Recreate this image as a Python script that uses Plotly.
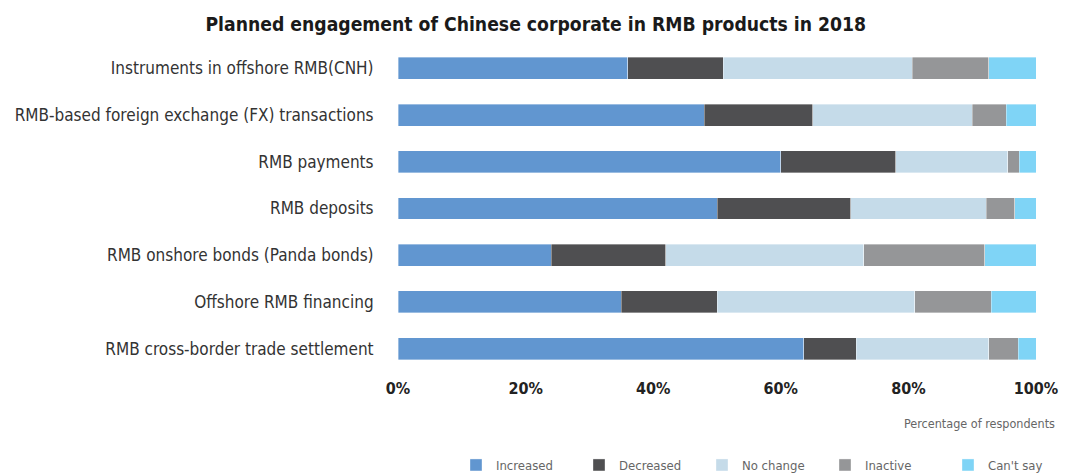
import plotly.graph_objects as go

categories = [
    "Instruments in offshore RMB(CNH)",
    "RMB-based foreign exchange (FX) transactions",
    "RMB payments",
    "RMB deposits",
    "RMB onshore bonds (Panda bonds)",
    "Offshore RMB financing",
    "RMB cross-border trade settlement",
]
increased = [36, 48, 60, 50, 24, 35, 63.6]
decreased = [15, 17, 18, 21, 18, 15, 8.2]
no_change = [29.6, 25, 17.6, 21.2, 31, 31, 20.8]
inactive = [12, 5.3, 1.8, 4.5, 19, 12, 4.6]
cant_say = [7.4, 4.7, 2.6, 3.3, 8, 7, 2.8]

series_names = ["Increased", "Decreased", "No change", "Inactive", "Can't say"]
series_values = [increased, decreased, no_change, inactive, cant_say]
colors = ["#6196D0", "#4F4F51", "#C5DBE9", "#959698", "#7FD4F6"]
tick_vals = [0, 20, 40, 60, 80, 100]
tick_text = ["0%", "20%", "40%", "60%", "80%", "100%"]

NARROW = "DejaVu Sans Condensed, Liberation Sans Narrow, sans-serif"

fig = go.Figure()
for name, vals, col in zip(series_names, series_values, colors):
    fig.add_trace(go.Bar(
        y=categories, x=vals, name=name, orientation="h",
        marker=dict(color=col, line=dict(color="rgba(255,255,255,0.6)", width=0.6)),
        width=0.47,
    ))

# page has an 8px body margin, so the figure is sized/offset to compensate
fig.update_layout(
    barmode="stack",
    width=1064, height=467,
    margin=dict(l=390, r=36, t=37, b=103),
    paper_bgcolor="white", plot_bgcolor="white",
    title=dict(
        text="<b>Planned engagement of Chinese corporate in RMB products in 2018</b>",
        x=0.496, xanchor="center", xref="container", y=0.966, yanchor="middle",
        yref="container",
        font=dict(family=NARROW, size=19.2, color="#1a1a1a"),
    ),
    xaxis=dict(
        range=[0, 100], tickvals=tick_vals, ticktext=tick_text,
        showgrid=False, zeroline=False, showline=False, automargin=False,
        ticks="outside", ticklen=2, tickcolor="rgba(0,0,0,0)",
        tickfont=dict(family=NARROW, size=16, color="#222", weight="bold"),
    ),
    yaxis=dict(
        autorange="reversed", showgrid=False, zeroline=False, showline=False,
        automargin=False,
        ticks="outside", ticklen=20, tickcolor="rgba(0,0,0,0)",
        tickfont=dict(family=NARROW, size=17, color="#333"),
    ),
    legend=dict(
        orientation="h", x=0.0909, xanchor="left", xref="paper",
        y=0.0214, yanchor="middle", yref="container",
        font=dict(family=NARROW, size=13, color="#666"),
        entrywidth=78, traceorder="normal",
    ),
    showlegend=True,
)
fig.add_annotation(
    text="Percentage of respondents", xref="paper", yref="paper",
    x=1, xanchor="right", xshift=21, y=-0.158, yanchor="middle",
    showarrow=False, font=dict(family=NARROW, size=12.5, color="#666"),
)
fig.write_html("out.html")
